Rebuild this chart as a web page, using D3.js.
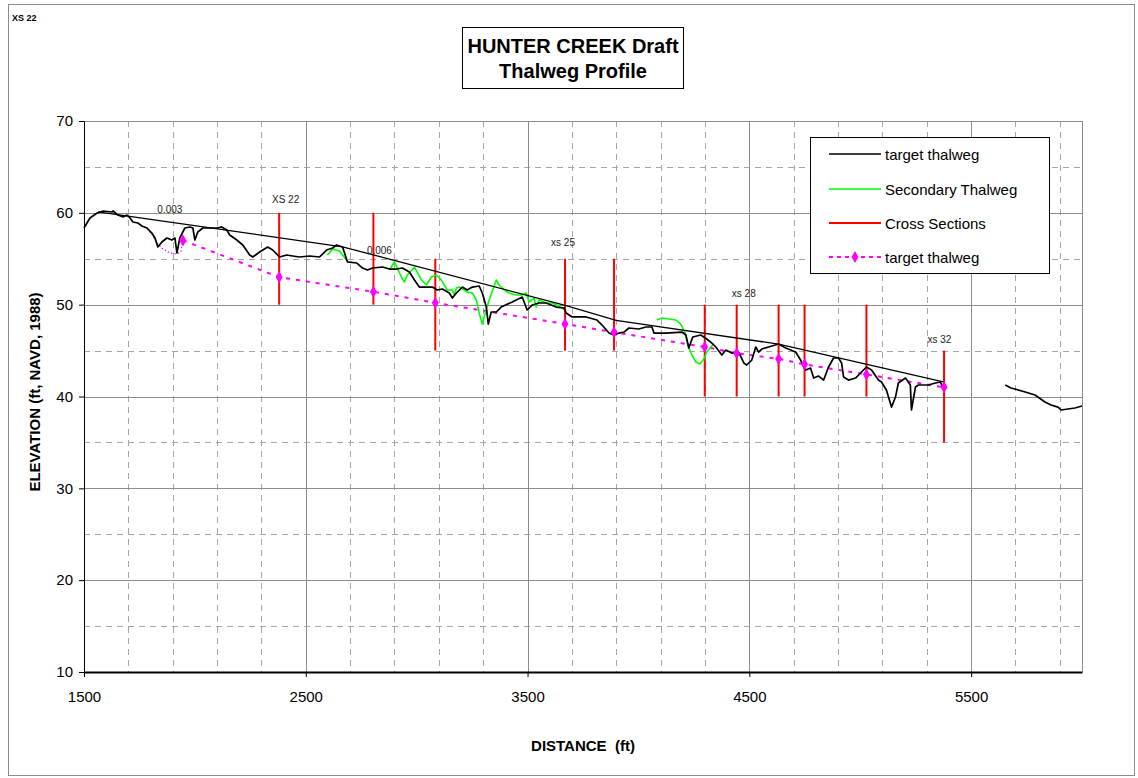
<!DOCTYPE html>
<html><head><meta charset="utf-8">
<script src="https://cdn.jsdelivr.net/npm/d3@7"></script>
<style>
body{margin:0;background:#fff;}
svg{display:block;font-family:Arial,"Liberation Sans",sans-serif;}
</style>
</head><body>
<svg id="chart" width="1138" height="778"></svg>
<script>
// ---------------- DATA ----------------
const xTickLabels = [1500, 2500, 3500, 4500, 5500];
const yTickLabels = [10, 20, 30, 40, 50, 60, 70];

// target thalweg (black surveyed profile), null = gap
const targetThalweg = [
[1500,58.35],[1527,59.44],[1559,59.98],[1586,60.20],[1626,60.09],[1631,60.20],[1653,59.76],[1676,59.55],[1694,59.76],[1707,59.44],[1721,59.00],[1743,58.89],[1761,58.57],[1784,58.35],[1806,57.80],[1820,57.26],[1833,56.28],[1851,56.82],[1874,57.26],[1896,57.04],[1910,57.26],[1919,55.63],[1932,57.26],[1955,58.35],[1977,58.46],[1991,58.35],[2000,57.04],[2013,57.91],[2036,58.35],[2067,58.35],[2099,58.35],[2121,58.46],[2144,58.13],[2157,57.59],[2189,57.04],[2216,56.50],[2247,55.41],[2261,55.19],[2292,55.73],[2328,56.28],[2351,55.95],[2382,55.19],[2414,55.41],[2441,55.30],[2472,55.19],[2517,55.30],[2562,55.19],[2594,55.95],[2621,56.17],[2639,56.50],[2666,56.28],[2688,54.65],[2729,54.54],[2756,53.99],[2778,53.77],[2801,53.99],[2846,54.10],[2877,53.88],[2909,53.88],[2936,53.99],[2967,53.56],[2990,52.69],[3012,51.92],[3044,51.92],[3071,51.92],[3093,51.60],[3116,51.71],[3147,51.27],[3161,50.72],[3179,51.27],[3206,51.92],[3228,51.60],[3251,51.92],[3282,52.03],[3296,51.27],[3314,49.74],[3323,47.89],[3336,49.20],[3359,49.20],[3381,49.74],[3431,50.29],[3476,50.83],[3498,49.42],[3521,49.96],[3552,50.18],[3584,50.18],[3629,49.74],[3665,49.64],[3674,49.09],[3701,48.66],[3764,48.66],[3813,48.33],[3836,47.78],[3867,46.91],[3890,46.70],[3912,46.91],[3935,47.02],[3957,47.46],[4002,47.35],[4034,47.57],[4061,47.57],[4070,46.91],[4124,46.91],[4196,47.02],[4214,46.70],[4227,45.28],[4245,46.48],[4281,46.70],[4308,46.26],[4331,45.82],[4349,45.39],[4376,44.52],[4394,45.06],[4421,44.73],[4452,44.84],[4475,43.65],[4488,43.43],[4511,43.97],[4529,45.39],[4542,44.84],[4556,45.17],[4587,45.39],[4632,45.72],[4664,45.28],[4709,44.84],[4731,43.97],[4754,42.88],[4776,43.10],[4790,42.01],[4812,42.23],[4835,41.79],[4857,43.21],[4880,44.19],[4902,44.19],[4916,43.65],[4925,42.12],[4947,41.79],[4979,42.01],[5006,42.67],[5028,43.21],[5051,42.88],[5082,41.79],[5096,41.58],[5118,40.71],[5141,38.85],[5159,39.94],[5172,41.47],[5204,42.01],[5226,41.25],[5231,38.53],[5249,41.03],[5262,41.25],[5307,41.25],[5339,41.47],[5361,41.58],[5375,40.92],
null,
[5654,41.25],[5680,40.92],[5744,40.49],[5788,40.16],[5833,39.40],[5860,39.07],[5892,38.85],[5906,38.53],[5937,38.64],[5968,38.75],[6000,38.96]
];

// straight grade line (slopes 0.003 / 0.006)
const gradeLine = [[1563,60.1],[2666,56.3],[3674,49.9],[3899,48.3],[4632,45.7],[5375,41.6]];

// secondary thalweg (green), null = gap
const secondaryThalweg = [
[2598,55.41],[2621,56.06],[2652,55.84],[2684,54.86],
null,
[2877,53.77],[2900,54.65],[2931,53.01],[2945,52.47],[2958,53.23],[2990,54.10],[3021,52.69],[3044,52.14],[3066,53.01],[3089,53.23],[3111,52.69],[3138,51.60],[3161,51.60],[3170,51.05],[3179,51.81],[3192,51.92],[3215,51.60],[3228,51.38],[3251,51.27],[3269,50.51],[3282,49.09],[3296,47.89],[3309,49.09],[3327,50.51],[3359,52.69],[3372,52.14],[3395,51.60],[3417,51.27],[3449,51.05],[3476,51.05],[3494,51.27],[3507,50.29],[3530,50.72],[3539,49.74],[3552,50.51],[3584,50.18],[3611,50.18],[3642,49.85],[3669,49.42],
null,
[4083,48.33],[4106,48.55],[4137,48.44],[4169,48.33],[4191,47.89],[4209,47.02],[4223,45.61],[4241,44.52],[4259,43.75],[4277,43.54],[4295,44.08],[4308,44.84],[4326,45.39],[4340,45.72]
];

// cross sections (red verticals)
const xsDistance = [2380, 2805, 3084, 3669, 3890, 4299, 4443, 4632, 4749, 5028, 5378];
const xsTop      = [60, 60, 55, 55, 55, 50, 50, 50, 50, 50, 45];
const xsBottom   = [50, 50, 45, 45, 45, 40, 40, 40, 40, 40, 35];

// target thalweg (magenta, dotted with markers)
const targetDistance  = [1946, 2380, 2805, 3084, 3669, 3890, 4299, 4443, 4632, 4749, 5028, 5378];
const targetElevation = [57.0, 53.0, 51.4, 50.2, 47.9, 47.0, 45.4, 44.7, 44.1, 43.5, 42.4, 41.0];

// fine dotted pool sketch before first marker
const poolCurve = [[1784,58.24],[1806,57.70],[1829,56.71],[1856,56.06],[1887,55.63],[1919,55.52],[1937,55.8],[1946,57.0]];

// annotations
const annoText      = ["0.003", "XS 22", "0.006", "xs 25", "xs 28", "xs 32"];
const annoDistance  = [1887, 2409, 2832, 3660, 4475, 5357];
const annoElevation = [60.0, 61.1, 55.5, 56.4, 50.8, 45.8];

const legendLabels = ["target thalweg", "Secondary Thalweg", "Cross Sections", "target thalweg"];

// ---------------- CHART ----------------
const svg = d3.select("#chart");
const L = 84, R = 1082, T = 121, B = 672;
const x = d3.scaleLinear().domain([1500, 6000]).range([L, R]);
const y = d3.scaleLinear().domain([10, 70]).range([B, T]);

svg.append("rect").attr("width",1138).attr("height",778).attr("fill","#fff");
// outer chart border
svg.append("rect").attr("x",8.5).attr("y",4.5).attr("width",1126).attr("height",771)
  .attr("fill","none").attr("stroke","#8c8c8c").attr("stroke-width",1);
svg.append("text").attr("x",12).attr("y",21).attr("font-size",9).attr("font-weight","bold").text("XS 22");

// gridlines
const g = svg.append("g");
const xMinor = d3.range(1700, 6000, 200).filter(v => (v - 1500) % 1000 !== 0);
const xMajor = [2500, 3500, 4500, 5500];
const yMinor = d3.range(15, 70, 10);
const yMajor = [20, 30, 40, 50, 60, 70];
g.selectAll(".xmin").data(xMinor).join("line")
  .attr("x1",d=>Math.round(x(d))+0.5).attr("x2",d=>Math.round(x(d))+0.5).attr("y1",T).attr("y2",B)
  .attr("stroke","#a6a6a6").attr("stroke-dasharray","6,5");
g.selectAll(".ymin").data(yMinor).join("line")
  .attr("x1",L).attr("x2",R).attr("y1",d=>Math.round(y(d))+0.5).attr("y2",d=>Math.round(y(d))+0.5)
  .attr("stroke","#a6a6a6").attr("stroke-dasharray","6,5");
g.selectAll(".xmaj").data(xMajor).join("line")
  .attr("x1",d=>Math.round(x(d))+0.5).attr("x2",d=>Math.round(x(d))+0.5).attr("y1",T).attr("y2",B)
  .attr("stroke","#8c8c8c");
g.selectAll(".ymaj").data(yMajor).join("line")
  .attr("x1",L).attr("x2",R).attr("y1",d=>Math.round(y(d))+0.5).attr("y2",d=>Math.round(y(d))+0.5)
  .attr("stroke","#8c8c8c");
g.append("line").attr("x1",R+0.5).attr("x2",R+0.5).attr("y1",T).attr("y2",B).attr("stroke","#8c8c8c");

// axes
const yAxis = svg.append("g").attr("transform",`translate(${L},0)`)
  .call(d3.axisLeft(y).tickValues(yTickLabels).tickSize(5).tickSizeOuter(0).tickPadding(6));
yAxis.select(".domain").attr("stroke","#000");
yAxis.selectAll("text").attr("font-size",15).attr("font-family","Arial,'Liberation Sans',sans-serif").attr("fill","#000");
const xAxis = svg.append("g").attr("transform",`translate(0,${B})`)
  .call(d3.axisBottom(x).tickValues(xTickLabels).tickSize(5).tickSizeOuter(0).tickPadding(14).tickFormat(d3.format("d")));
xAxis.select(".domain").attr("stroke","#000").attr("stroke-width",2);
xAxis.selectAll("text").attr("font-size",15).attr("font-family","Arial,'Liberation Sans',sans-serif").attr("fill","#000");

svg.append("text").attr("transform","translate(40,392) rotate(-90)").attr("text-anchor","middle")
  .attr("font-size",15).attr("font-weight","bold").text("ELEVATION (ft, NAVD, 1988)");
svg.append("text").attr("x",583).attr("y",751).attr("text-anchor","middle")
  .attr("font-size",15).attr("font-weight","bold").attr("xml:space","preserve").text("DISTANCE  (ft)");

// series
const line = d3.line().defined(d => d !== null).x(d => x(d[0])).y(d => y(d[1]));
const plot = svg.append("g");

// red cross sections
plot.selectAll(".xs").data(xsDistance).join("line")
  .attr("x1",d=>x(d)).attr("x2",d=>x(d))
  .attr("y1",(d,i)=>y(xsTop[i])).attr("y2",(d,i)=>y(xsBottom[i]))
  .attr("stroke","#ff0000").attr("stroke-width",2);

// magenta pool curve and target line
plot.append("path").attr("d",line(poolCurve)).attr("fill","none")
  .attr("stroke","#ff00ff").attr("stroke-width",1.3).attr("stroke-dasharray","1.3,2.2");
const targetPts = targetDistance.map((d,i)=>[d,targetElevation[i]]);
plot.append("path").attr("d",line(targetPts)).attr("fill","none")
  .attr("stroke","#ff00ff").attr("stroke-width",2).attr("stroke-dasharray","4,6");

// green secondary
plot.append("path").attr("d",line(secondaryThalweg)).attr("fill","none")
  .attr("stroke","#00ff00").attr("stroke-width",1.6).attr("stroke-linejoin","round");

// black target thalweg
plot.append("path").attr("d",line(targetThalweg)).attr("fill","none")
  .attr("stroke","#000").attr("stroke-width",1.7).attr("stroke-linejoin","round");
// grade line
plot.append("path").attr("d",line(gradeLine)).attr("fill","none")
  .attr("stroke","#000").attr("stroke-width",1.3);

// magenta markers
const diamond = d3.symbol().type(d3.symbolDiamond).size(42);
plot.selectAll(".mk").data(targetPts).join("path")
  .attr("d",diamond).attr("transform",d=>`translate(${x(d[0])},${y(d[1])})`).attr("fill","#ff00ff");

// annotations
svg.selectAll(".anno").data(annoText).join("text")
  .attr("x",(d,i)=>x(annoDistance[i])).attr("y",(d,i)=>y(annoElevation[i]))
  .attr("text-anchor","middle").attr("font-size",10).attr("fill","#222").text(d=>d);

// title box
svg.append("rect").attr("x",462.5).attr("y",27.5).attr("width",221).attr("height",61)
  .attr("fill","#fff").attr("stroke","#000");
svg.append("text").attr("x",573).attr("y",53).attr("text-anchor","middle").attr("font-size",20).attr("font-weight","bold").text("HUNTER CREEK Draft");
svg.append("text").attr("x",573).attr("y",78).attr("text-anchor","middle").attr("font-size",20).attr("font-weight","bold").text("Thalweg Profile");

// legend
const lg = svg.append("g");
lg.append("rect").attr("x",810.5).attr("y",137.5).attr("width",239).attr("height",136)
  .attr("fill","#fff").attr("stroke","#000");
const rowY = [154, 189, 223, 257];
const legStyles = [
  {c:"#000", w:1.6, dash:null, mk:false},
  {c:"#00ff00", w:1.6, dash:null, mk:false},
  {c:"#ff0000", w:2, dash:null, mk:false},
  {c:"#ff00ff", w:2, dash:"4,4", mk:true}
];
legendLabels.forEach((t,i)=>{
  const s = legStyles[i];
  const ln = lg.append("line").attr("x1",829).attr("x2",881).attr("y1",rowY[i]).attr("y2",rowY[i])
    .attr("stroke",s.c).attr("stroke-width",s.w);
  if (s.dash) ln.attr("stroke-dasharray",s.dash);
  if (s.mk) lg.append("path").attr("d",diamond).attr("transform",`translate(855,${rowY[i]})`).attr("fill",s.c);
  lg.append("text").attr("x",885).attr("y",rowY[i]+5.5).attr("font-size",15).text(t);
});
</script>
</body></html>
